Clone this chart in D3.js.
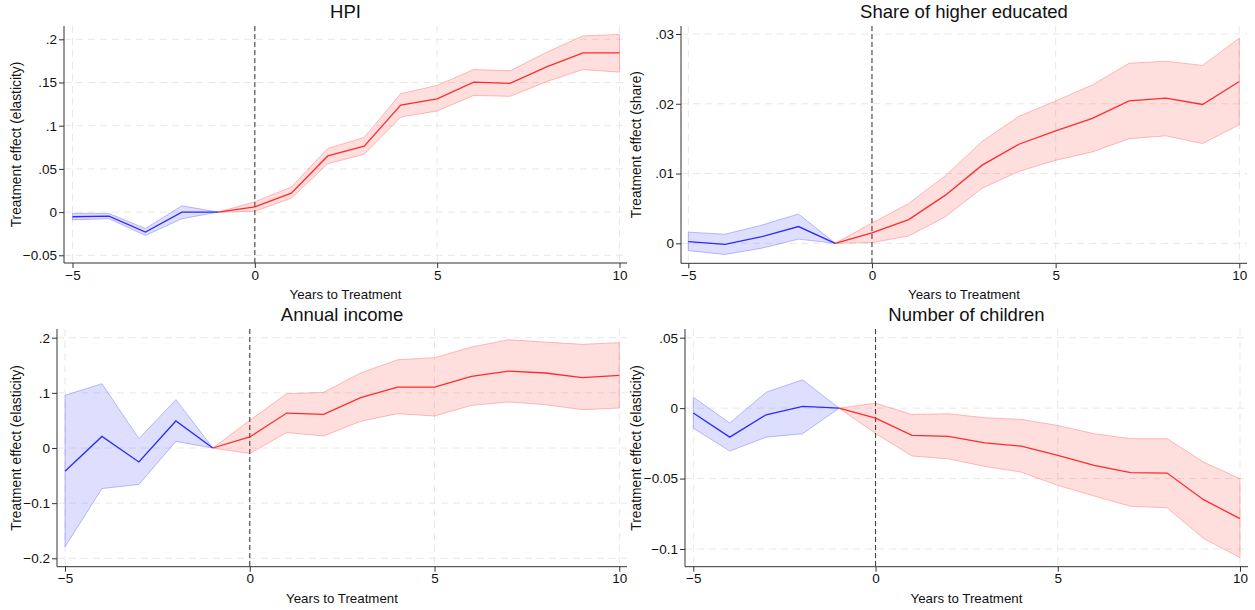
<!DOCTYPE html>
<html>
<head>
<meta charset="utf-8">
<script src="https://cdn.jsdelivr.net/npm/d3@7"></script>
<style>
  body { margin: 0; background: #fff; }
  text { font-family: "Liberation Sans", Arial, sans-serif; fill: #111; }
</style>
</head>
<body>
<svg width="1255" height="610"></svg>
<script>
const svg = d3.select('svg');

// event time, -5 .. 10 (-1 is the reference year)
const years = [-5,-4,-3,-2,-1,0,1,2,3,4,5,6,7,8,9,10];

const hpiCoef = [-0.0054,-0.0046,-0.023,0.0,0,0.006,0.022,0.065,0.0764,0.1238,0.131,0.1505,0.149,0.168,0.1844,0.1844];
const hpiLo   = [-0.009,-0.0076,-0.027,-0.0077,0,0.001,0.016,0.056,0.067,0.110,0.117,0.135,0.134,0.151,0.165,0.162];
const hpiHi   = [-0.0015,-0.0016,-0.019,0.0073,0,0.012,0.029,0.0737,0.0864,0.137,0.1466,0.165,0.1636,0.185,0.204,0.2056];

const eduCoef = [0.00023,-0.00015,0.00095,0.0024,0,0.0015,0.0034,0.0069,0.0112,0.0142,0.0161,0.0179,0.0204,0.0208,0.0199,0.0232];
const eduLo   = [-0.00105,-0.0016,-0.0007,0.0006,0,0.0001,0.00105,0.0038,0.0079,0.0103,0.0119,0.0131,0.0150,0.0154,0.0143,0.0170];
const eduHi   = [0.0016,0.0013,0.0026,0.0042,0,0.0029,0.0057,0.0097,0.0146,0.0182,0.0204,0.0227,0.0258,0.0261,0.0255,0.0294];

const incCoef = [-0.042,0.021,-0.0253,0.049,0,0.020,0.0634,0.061,0.0913,0.1105,0.1105,0.130,0.1395,0.136,0.1275,0.1317];
const incLo   = [-0.179,-0.0736,-0.066,0.012,0,-0.010,0.028,0.0218,0.0484,0.0623,0.058,0.0773,0.0834,0.0786,0.0695,0.0725];
const incHi   = [0.0955,0.1166,0.017,0.0877,0,0.050,0.0985,0.101,0.136,0.160,0.1638,0.183,0.1963,0.192,0.188,0.191];

const kidCoef = [-0.0035,-0.0206,-0.0047,0.0012,0,-0.0071,-0.0194,-0.020,-0.0246,-0.027,-0.0336,-0.0406,-0.0458,-0.0461,-0.065,-0.0784];
const kidLo   = [-0.0142,-0.0305,-0.0206,-0.0182,0,-0.018,-0.034,-0.036,-0.0414,-0.0454,-0.0548,-0.0624,-0.0697,-0.0707,-0.0926,-0.1061];
const kidHi   = [0.0078,-0.0106,0.0113,0.0201,0,0.0035,-0.0045,-0.004,-0.0068,-0.008,-0.0123,-0.0182,-0.0217,-0.0217,-0.0383,-0.0501];

const xTicks = [-5, 0, 5, 10];
const hpiTicks = [-0.05, 0, 0.05, 0.1, 0.15, 0.2];
const eduTicks = [0, 0.01, 0.02, 0.03];
const incTicks = [-0.2, -0.1, 0, 0.1, 0.2];
const kidTicks = [-0.1, -0.05, 0, 0.05];

const panels = [
  {title: "HPI", ytitle: "Treatment effect (elasticity)", coef: hpiCoef, lo: hpiLo, hi: hpiHi, ticks: hpiTicks,
   axisX: 64, x0: 72.5, x1: 619.5, right: 627, top: 26, bot: 263, ydom: [-0.05, 0.2], yr: [255.3, 39.3], ytx: 16},
  {title: "Share of higher educated", ytitle: "Treatment effect (share)", coef: eduCoef, lo: eduLo, hi: eduHi, ticks: eduTicks,
   axisX: 681, x0: 688.3, x1: 1239.3, right: 1247, top: 26, bot: 263.3, ydom: [0, 0.03], yr: [243.3, 34], ytx: 636},
  {title: "Annual income", ytitle: "Treatment effect (elasticity)", coef: incCoef, lo: incLo, hi: incHi, ticks: incTicks,
   axisX: 57, x0: 65, x1: 619.3, right: 627, top: 329, bot: 566.7, ydom: [-0.2, 0.2], yr: [558.3, 337.7], ytx: 16},
  {title: "Number of children", ytitle: "Treatment effect (elasticity)", coef: kidCoef, lo: kidLo, hi: kidHi, ticks: kidTicks,
   axisX: 685, x0: 693.3, x1: 1240, right: 1248, top: 329, bot: 566.7, ydom: [-0.1, 0.05], yr: [549, 337.7], ytx: 636}
];

// Stata style: drop the leading zero
const fmt = v => {
  if (Math.abs(v) < 1e-12) return "0";
  return d3.format("")(+v.toFixed(4)).replace(/^(-?)0\./, "$1.");
};

const drawPanel = (p) => {
  const x = d3.scaleLinear().domain([-5, 10]).range([p.x0, p.x1]);
  const y = d3.scaleLinear().domain(p.ydom).range(p.yr);
  const g = svg.append("g");

  const pts = years.map((t, i) => ({t: t, c: p.coef[i], lo: p.lo[i], hi: p.hi[i]}));
  const pre = pts.filter(d => d.t <= -1);
  const post = pts.filter(d => d.t >= -1);

  // grid
  g.selectAll(".hg").data(p.ticks).enter().append("line")
    .attr("x1", p.axisX).attr("x2", p.right)
    .attr("y1", d => y(d)).attr("y2", d => y(d))
    .attr("stroke", "#e8e8e8").attr("stroke-width", 1).attr("stroke-dasharray", "7,5");
  g.selectAll(".vg").data(xTicks).enter().append("line")
    .attr("x1", d => x(d)).attr("x2", d => x(d))
    .attr("y1", p.top).attr("y2", p.bot)
    .attr("stroke", "#e8e8e8").attr("stroke-width", 1).attr("stroke-dasharray", "7,5");

  const area = d3.area().x(d => x(d.t)).y0(d => y(d.lo)).y1(d => y(d.hi));
  const line = d3.line().x(d => x(d.t)).y(d => y(d.c));

  g.append("path").datum(pre).attr("d", area)
    .attr("fill", "rgba(90,90,255,0.2)").attr("stroke", "rgba(110,110,255,0.45)").attr("stroke-width", 1);
  g.append("path").datum(post).attr("d", area)
    .attr("fill", "rgba(255,90,90,0.2)").attr("stroke", "rgba(255,110,110,0.45)").attr("stroke-width", 1);

  // treatment year
  g.append("line")
    .attr("x1", x(0)).attr("x2", x(0)).attr("y1", p.top).attr("y2", p.bot)
    .attr("stroke", "#444").attr("stroke-width", 1.1).attr("stroke-dasharray", "5,3");

  g.append("path").datum(pre).attr("d", line)
    .attr("fill", "none").attr("stroke", "#2b2bff").attr("stroke-width", 1.3);
  g.append("path").datum(post).attr("d", line)
    .attr("fill", "none").attr("stroke", "#ff2b2b").attr("stroke-width", 1.3);

  // axes
  const yAxis = g.append("g").attr("transform", "translate(" + p.axisX + ",0)")
    .call(d3.axisLeft(y).tickValues(p.ticks).tickFormat(fmt).tickSize(5).tickSizeOuter(0));
  yAxis.select(".domain").attr("d", "M0," + p.top + "V" + p.bot).attr("stroke", "#333");
  yAxis.selectAll(".tick line").attr("stroke", "#333");
  yAxis.selectAll("text").style("font-size", "13.5px").attr("x", -7).attr("font-family", null);

  const xAxis = g.append("g").attr("transform", "translate(0," + p.bot + ")")
    .call(d3.axisBottom(x).tickValues(xTicks).tickSize(5).tickSizeOuter(0));
  xAxis.select(".domain").attr("d", "M" + p.axisX + ",0H" + p.right).attr("stroke", "#333");
  xAxis.selectAll(".tick line").attr("stroke", "#333");
  xAxis.selectAll("text").style("font-size", "13.5px").attr("y", 7).attr("font-family", null);

  const cx = (p.axisX + p.right) / 2;
  g.append("text").attr("x", cx).attr("y", p.top - 8)
    .attr("text-anchor", "middle").style("font-size", "18.5px").text(p.title);
  g.append("text").attr("x", cx).attr("y", p.bot + 36)
    .attr("text-anchor", "middle").style("font-size", "13.3px").text("Years to Treatment");
  g.append("text")
    .attr("transform", "translate(" + (p.ytx + 4.5) + "," + ((p.top + p.bot) / 2) + ") rotate(-90)")
    .attr("text-anchor", "middle").style("font-size", "13.8px").text(p.ytitle);
};

panels.forEach(drawPanel);
</script>
</body>
</html>
